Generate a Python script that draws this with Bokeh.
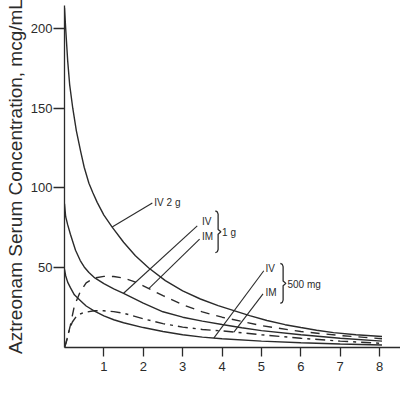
import numpy as np
from bokeh.plotting import figure
from bokeh.models import Range1d, FixedTicker, Label
from bokeh.core.properties import value
from bokeh.embed import file_html
from bokeh.resources import INLINE

# ---- data (hours, mcg/mL) ----
iv2g_t = [0, 0.03, 0.08, 0.13, 0.21, 0.3, 0.41, 0.5, 0.62, 0.72, 0.83, 1.0, 1.21, 1.5, 1.8, 2.14, 2.56, 3.0, 3.45, 3.9, 4.3, 4.7, 5.14, 5.6, 6.0, 6.4, 6.83, 7.4, 8.06]
iv2g_v = [213, 200, 180, 165, 150, 136, 123, 113, 103, 97, 91, 83, 75.5, 66, 57.5, 49.8, 41.9, 35.5, 30.4, 26.3, 23.1, 20, 16.9, 14.3, 12.5, 10.8, 9.3, 8, 6.9]

iv1g_t = [0, 0.03, 0.08, 0.15, 0.28, 0.4, 0.5, 0.62, 0.75, 1.0, 1.25, 1.5, 2.0, 2.5, 3.0, 3.5, 4.0, 4.5, 5.0, 6.0, 7.0, 8.06]
iv1g_v = [90, 82, 77, 71, 61, 54.5, 50.5, 47, 44, 40, 36.8, 34, 27.8, 22.4, 19, 16.5, 14.4, 12.4, 10.6, 8, 5.8, 4]

im1g_t = [0, 0.04, 0.08, 0.15, 0.25, 0.4, 0.55, 0.75, 1.0, 1.25, 1.5, 1.75, 2.0, 2.5, 3.0, 3.5, 4.0, 5.0, 6.0, 7.0, 8.06]
im1g_v = [0, 3, 7, 14, 26, 35, 40.5, 43.5, 44.6, 44.5, 43.5, 41.5, 38.7, 32.5, 26.8, 22.3, 19, 13.7, 10, 7.5, 5.5]

iv500_t = [0, 0.03, 0.08, 0.15, 0.25, 0.4, 0.55, 0.75, 1.0, 1.25, 1.5, 2.0, 2.5, 3.0, 3.5, 4.0, 5.0, 6.0, 7.0, 8.06]
iv500_v = [49, 45, 41, 37.5, 33, 29.5, 26, 23, 19.8, 17.4, 15.5, 12.5, 10, 8, 6.5, 5.5, 4, 3, 2.2, 1.6]

im500_t = [0, 0.05, 0.1, 0.15, 0.2, 0.3, 0.4, 0.5, 0.75, 1.0, 1.25, 1.5, 2.0, 2.5, 3.0, 3.5, 4.0, 5.0, 6.0, 7.0, 8.06]
im500_v = [0, 4, 9, 13, 16, 19.5, 21, 22, 23, 23, 22.5, 21.5, 18, 15, 12.8, 11.3, 10.4, 8, 5.8, 4, 2.6]

x_ticks = [1, 2, 3, 4, 5, 6, 7, 8]
y_ticks = [50, 100, 150, 200]

INK = "#2b2b2b"
FONT = "Liberation Sans"

p = figure(width=400, height=396, x_range=Range1d(0, 8.53), y_range=Range1d(0, 214.4),
           output_backend="svg", toolbar_location=None,
           min_border_left=64, min_border_right=0, min_border_top=5, min_border_bottom=49)
p.outline_line_color = None
p.xgrid.visible = False
p.ygrid.visible = False
p.background_fill_color = "white"

for ax in (p.xaxis[0], p.yaxis[0]):
    ax.axis_line_color = INK
    ax.axis_line_width = 1.3
    ax.major_tick_line_color = INK
    ax.major_tick_line_width = 1.3
    ax.major_tick_in = 0
    ax.minor_tick_line_color = None
    ax.major_label_text_font = FONT
    ax.major_label_text_font_size = "13px"
    ax.major_label_text_color = INK

p.xaxis.ticker = FixedTicker(ticks=x_ticks)
p.yaxis.ticker = FixedTicker(ticks=y_ticks)
p.xaxis.major_tick_out = 9
p.yaxis.major_tick_out = 11
p.xaxis.major_label_standoff = 5
p.yaxis.major_label_standoff = 1
p.yaxis.axis_label = "Aztreonam Serum Concentration, mcg/mL"
p.yaxis.axis_label_text_font = FONT
p.yaxis.axis_label_text_font_size = "19px"
p.yaxis.axis_label_text_font_style = "normal"
p.yaxis.axis_label_text_color = INK
p.yaxis.axis_label_standoff = 2

LW = 1.4
p.line(iv2g_t, iv2g_v, line_color=INK, line_width=LW)
p.line(iv1g_t, iv1g_v, line_color=INK, line_width=LW)
p.line(iv500_t, iv500_v, line_color=INK, line_width=LW)
p.line(im1g_t, im1g_v, line_color=INK, line_width=LW, line_dash="9 7")
p.line(im500_t, im500_v, line_color=INK, line_width=LW, line_dash="10 5 3 5")

# ---- annotations: leaders, braces, labels ----
def anchor(ts, vs, t):
    return t, float(np.interp(t, ts, vs))

def leader(start, end):
    p.line([start[0], end[0]], [start[1], end[1]], line_color=INK, line_width=1.1)

leader(anchor(iv2g_t, iv2g_v, 1.21), (2.23, 90.6))
leader(anchor(iv1g_t, iv1g_v, 1.5), (3.37, 76.3))
leader(anchor(im1g_t, im1g_v, 2.14), (3.43, 67.9))
leader(anchor(iv500_t, iv500_v, 3.79), (5.06, 48.1))
leader(anchor(im500_t, im500_v, 4.30), (5.04, 33.6))

def brace(x, y_top, y_bot, hook, tip):
    ym = (y_top + y_bot) / 2
    xs = [x - hook, x - hook * 0.3, x, x, x + tip, x, x, x - hook * 0.3, x - hook]
    ys = [y_top, y_top - 0.6, y_top - 2.0, ym + 1.5, ym, ym - 1.5, y_bot + 2.0, y_bot + 0.6, y_bot]
    p.line(xs, ys, line_color=INK, line_width=1.3)

brace(3.90, 85.6, 59.4, 0.07, 0.07)
brace(5.55, 52.7, 27.7, 0.07, 0.07)

lab_x = [2.28, 3.49, 3.49, 4.0, 5.10, 5.10, 5.66]
lab_y = [90.9, 79.1, 69.4, 72.0, 49.4, 34.6, 39.8]
lab_t = ["IV 2 g", "IV", "IM", "1 g", "IV", "IM", "500 mg"]
p.text(x=lab_x, y=lab_y, text=lab_t, text_font=value(FONT), text_font_size="10px",
       text_color=INK, text_align="left", text_baseline="middle")

p.add_layout(Label(x=4.0, y=-24, x_units="data", y_units="data", text="Hours",
                   text_font=FONT, text_font_size="19px", text_color=INK,
                   text_align="center", text_baseline="middle"))

open("out.html", "w").write(file_html(p, INLINE))
